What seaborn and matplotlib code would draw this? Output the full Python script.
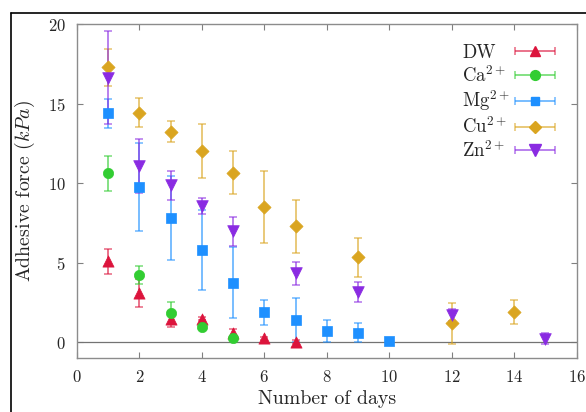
import numpy as np
import pandas as pd
import matplotlib
matplotlib.use("Agg")
import matplotlib.pyplot as plt
from matplotlib.lines import Line2D
from matplotlib.colors import to_rgba
from matplotlib.legend_handler import HandlerErrorbar
import seaborn as sns

# Adhesive force per treatment (mean and spread), by day
dw_days = [1, 2, 3, 4, 5, 6, 7]
dw_vals = [5.1, 3.1, 1.5, 1.5, 0.6, 0.25, 0.05]
dw_err = [0.8, 0.9, 0.5, 0.12, 0.25, 0.12, 0.08]

ca_days = [1, 2, 3, 4, 5]
ca_vals = [10.65, 4.25, 1.85, 0.98, 0.3]
ca_err = [1.1, 0.55, 0.7, 0.12, 0.1]

mg_days = [1, 2, 3, 4, 5, 6, 7, 8, 9, 10]
mg_vals = [14.4, 9.77, 7.82, 5.82, 3.76, 1.89, 1.41, 0.73, 0.61, 0.1]
mg_err = [0.9, 2.75, 2.65, 2.5, 2.25, 0.8, 1.4, 0.7, 0.6, 0.1]

cu_days = [1, 2, 3, 4, 5, 6, 7, 9, 12, 14]
cu_vals = [17.3, 14.44, 13.24, 12.06, 10.66, 8.5, 7.29, 5.34, 1.2, 1.91]
cu_err = [1.15, 0.9, 0.66, 1.7, 1.36, 2.27, 1.64, 1.2, 1.3, 0.76]

zn_days = [1, 2, 3, 4, 5, 7, 9, 12, 15]
zn_vals = [16.65, 11.07, 9.88, 8.6, 6.98, 4.35, 3.19, 1.72, 0.23]
zn_err = [2.9, 1.7, 0.9, 0.5, 0.9, 0.73, 0.63, 0.4, 0.35]

labels = ["DW", "Ca$^{2+}$", "Mg$^{2+}$", "Cu$^{2+}$", "Zn$^{2+}$"]
colors = ["#DC143C", "#32CD32", "#1E90FF", "#DAA520", "#8A2BE2"]
markers = ["^", "o", "s", "D", "v"]
msizes = [65, 55, 45, 45, 70]

series = [
    (dw_days, dw_vals, dw_err),
    (ca_days, ca_vals, ca_err),
    (mg_days, mg_vals, mg_err),
    (cu_days, cu_vals, cu_err),
    (zn_days, zn_vals, zn_err),
]

sns.set_theme(style="ticks")
plt.rcParams.update({
    "font.family": "serif",
    "font.serif": ["cmr10", "DejaVu Serif"],
    "mathtext.fontset": "cm",
    "axes.formatter.use_mathtext": True,
    "axes.unicode_minus": False,
})

fig = plt.figure(figsize=(5.86, 4.12), dpi=100)
ax = fig.add_axes([0.1314, 0.1303, 0.8526, 0.8107])

frames = []
for lab, (d, v, e) in zip(labels, series):
    frames.append(pd.DataFrame({"day": d, "force": v, "err": e, "group": lab}))
df = pd.concat(frames, ignore_index=True)

LEG_FS = 13.5
handles = []
for lab, col, mk, ms, (d, v, e) in zip(labels, colors, markers, msizes, series):
    light = to_rgba(col, 0.6)
    ax.errorbar(d, v, yerr=e, fmt="none", ecolor=light, elinewidth=1.4,
                capsize=3, capthick=1.2, zorder=2)
    sub = df[df["group"] == lab]
    sns.scatterplot(data=sub, x="day", y="force", color=col, marker=mk,
                    s=ms, edgecolor=col, linewidth=0.5, ax=ax,
                    legend=False, zorder=3)
    h = ax.errorbar([np.nan], [np.nan], xerr=[[np.nan]], fmt=mk, color=col,
                    ecolor=light, elinewidth=1.4, capsize=3, capthick=1.2,
                    markersize=np.sqrt(ms) * 0.95, label=lab)
    handles.append(h)

ax.axhline(0, color="0.45", lw=0.9, zorder=1)

ax.set_xlim(0, 16)
ax.set_ylim(-1, 20)
ax.set_xticks(range(0, 17, 2))
ax.set_yticks([0, 5, 10, 15, 20])
ax.set_xlabel("Number of days", fontsize=14.3, labelpad=3.5)
ax.set_ylabel("Adhesive force ($kPa$)", fontsize=14.3, labelpad=8)
ax.tick_params(direction="in", top=True, right=True, length=4, width=0.8,
               color="0.5", labelsize=12, pad=8)
for sp in ax.spines.values():
    sp.set_color("0.55")
    sp.set_linewidth(1.0)

leg = ax.legend(handles=handles, labels=labels, loc="upper right",
                bbox_to_anchor=(0.99, 0.992), frameon=False,
                markerfirst=False, fontsize=LEG_FS, handlelength=2.1,
                labelspacing=0.15, handletextpad=0.3,
                handler_map={type(handles[0]): HandlerErrorbar(xerr_size=1.05)})

# left-align the legend entries: hide the packed texts and redraw them
fig.canvas.draw()
texts = leg.get_texts()
anchors = [t.get_transform().transform(t.get_position()) for t in texts]
boxes = [t.get_window_extent() for t in texts]
x_left = min(b.x0 for b in boxes)
W, H = fig.bbox.width, fig.bbox.height
for t, (ax_x, ax_y) in zip(texts, anchors):
    fig.text(x_left / W, ax_y / H, t.get_text(), fontsize=LEG_FS,
             ha="left", va=t.get_va())
    t.set_visible(False)

# outer border lines along the top and left edges
fig.add_artist(Line2D([11 / 586, 1.0], [1 - 13 / 412, 1 - 13 / 412],
                      transform=fig.transFigure, color="black", lw=1.2))
fig.add_artist(Line2D([11 / 586, 11 / 586], [0.0, 1 - 13 / 412],
                      transform=fig.transFigure, color="black", lw=1.2))

fig.savefig("out.png", dpi=100)
